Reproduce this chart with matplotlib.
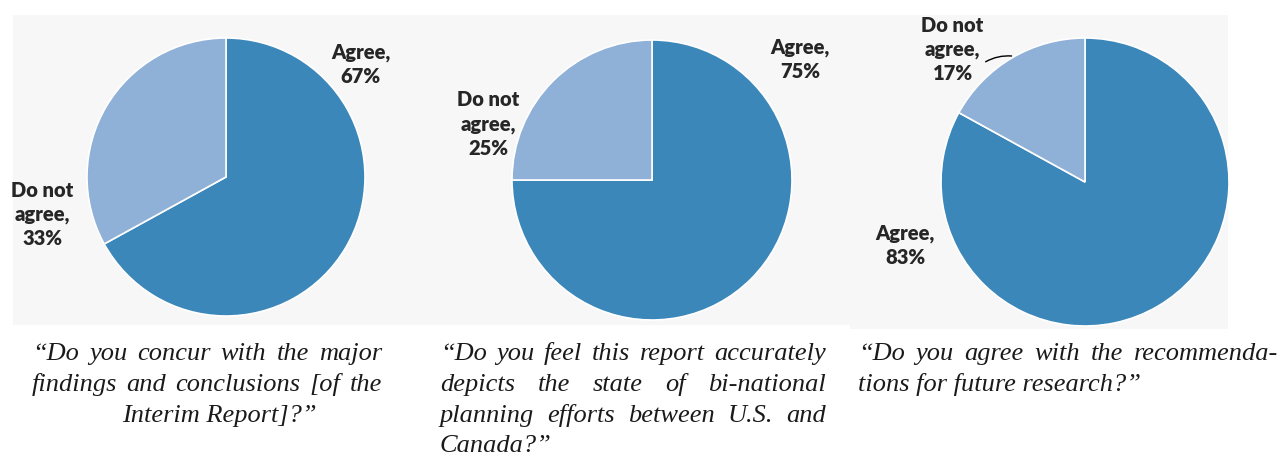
import matplotlib
matplotlib.use("Agg")
import matplotlib.pyplot as plt
from matplotlib.patches import Rectangle

# ---- data ----
categories = ["Agree", "Do not agree"]
pie1_values = [67, 33]
pie2_values = [75, 25]
pie3_values = [83, 17]
pie_values = [pie1_values, pie2_values, pie3_values]

caption1 = ["\u201cDo you concur with the major",
            "findings and conclusions [of the",
            "Interim Report]?\u201d"]
caption2 = ["\u201cDo you feel this report accurately",
            "depicts the state of bi-national",
            "planning efforts between U.S. and",
            "Canada?\u201d"]
caption3 = ["\u201cDo you agree with the recommenda-",
            "tions for future research?\u201d"]

W, H = 1283, 459
DPI = 100
fig = plt.figure(figsize=(W / DPI, H / DPI), dpi=DPI)
fig.patch.set_facecolor("white")

# overlay axes in pixel coordinates (y downwards)
ov = fig.add_axes([0, 0, 1, 1])
ov.set_xlim(0, W)
ov.set_ylim(H, 0)
ov.axis("off")

bg = "#f7f7f7"
ov.add_patch(Rectangle((13, 15), 837, 310, facecolor=bg, edgecolor="none"))
ov.add_patch(Rectangle((850, 15), 378, 314, facecolor=bg, edgecolor="none"))

AGREE_C = "#3b87ba"
DIS_C = "#8fb0d7"
LABEL_C = "#262626"
label_font = dict(family="Lato", weight="heavy", fontsize=14.5, color=LABEL_C,
                  ha="center", va="center", linespacing=1.3)

# pie geometry (pixels): centre x, centre y, radius
pies = [(226, 177, 139), (652, 180, 140), (1085, 182, 144)]
# label offsets in units of radius: (agree_dx, agree_dy, dis_dx, dis_dy)
label_pos = [(0.97, 0.81, -1.32, -0.27),
             (1.06, 0.86, -1.17, 0.40),
             (-1.25, -0.44, -0.92, 0.92)]

K = 1.6
for (cx, cy, r), vals, lp in zip(pies, pie_values, label_pos):
    side = 2 * r * K
    ax = fig.add_axes([(cx - side / 2) / W, (H - cy - side / 2) / H, side / W, side / H])
    ax.set_xlim(-K, K)
    ax.set_ylim(-K, K)
    ax.set_aspect("equal")
    ax.axis("off")
    ax.pie(vals, colors=[AGREE_C, DIS_C], startangle=90, counterclock=False,
           radius=1.0, center=(0, 0), frame=False,
           wedgeprops=dict(edgecolor="white", linewidth=1.2))
    ax.set_xlim(-K, K)
    ax.set_ylim(-K, K)
    ax.text(lp[0], lp[1], f"Agree,\n{vals[0]}%", **label_font)
    ax.text(lp[2], lp[3], f"Do not\nagree,\n{vals[1]}%", **label_font)
    if vals[1] < 20:
        ax.annotate("", xy=(-0.51, 0.875), xytext=(-0.69, 0.835),
                    arrowprops=dict(arrowstyle="-", color="black", lw=1.0,
                                    shrinkA=0, shrinkB=0,
                                    connectionstyle="arc3,rad=-0.15"))

# ---- captions ----
cap_font = dict(family="Liberation Serif", style="italic", fontsize=19, color="#1a1a1a")
fig.canvas.draw()
renderer = fig.canvas.get_renderer()


def word_width(w):
    t = ov.text(0, 0, w, **cap_font)
    bb = t.get_window_extent(renderer)
    t.remove()
    return bb.width


def justify(line, x0, x1, y):
    words = line.split(" ")
    widths = [word_width(w) for w in words]
    gap = (x1 - x0 - sum(widths)) / (len(words) - 1)
    x = x0
    for w, wd in zip(words, widths):
        ov.text(x, y, w, ha="left", va="baseline", **cap_font)
        x += wd + gap


baselines = [360, 391, 422, 452]

# caption 1: justified, last line centred
for i, line in enumerate(caption1):
    if i < len(caption1) - 1:
        justify(line, 32, 382, baselines[i])
    else:
        ov.text(219, baselines[i], line, ha="center", va="baseline", **cap_font)

# caption 2: justified, last line left
for i, line in enumerate(caption2):
    if i < len(caption2) - 1:
        justify(line, 440, 826, baselines[i])
    else:
        ov.text(440, baselines[i], line, ha="left", va="baseline", **cap_font)

# caption 3: justified, last line left
for i, line in enumerate(caption3):
    if i < len(caption3) - 1:
        justify(line, 858, 1278, baselines[i])
    else:
        ov.text(858, baselines[i], line, ha="left", va="baseline", **cap_font)

fig.savefig("out.png", dpi=DPI, facecolor="white")
